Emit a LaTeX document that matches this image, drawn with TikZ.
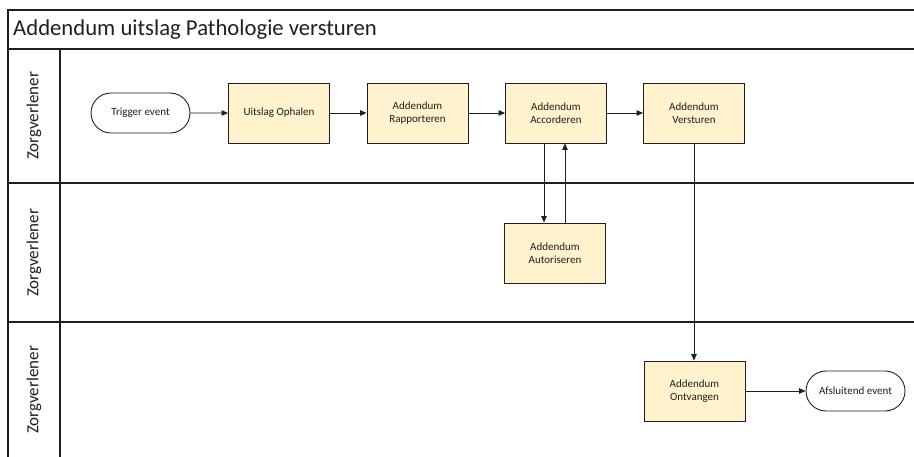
\documentclass[tikz,border=0pt]{standalone}
\usepackage{fontspec}
\setmainfont{Carlito}
\usetikzlibrary{arrows.meta,shapes.misc}
\definecolor{boxfill}{HTML}{FFF2CC}
\definecolor{linec}{HTML}{1F1F1F}
\begin{document}
\begin{tikzpicture}[x=1pt,y=-1pt,
  frameline/.style={draw=linec,line width=1.2pt},
  taskbox/.style={draw=linec,fill=boxfill,line width=0.9pt,minimum width=101pt,minimum height=60pt,inner sep=1pt,align=center,font=\fontsize{11}{13.3}\selectfont,text=linec},
  eventbox/.style={draw=linec,fill=white,line width=0.9pt,rounded rectangle,minimum width=101pt,minimum height=40pt,inner sep=1pt,align=center,font=\fontsize{11}{13.3}\selectfont,text=linec},
  lanelabel/.style={rotate=90,font=\fontsize{17}{19}\selectfont,text=linec},
  arr/.style={draw=linec,line width=0.9pt,-{Triangle[length=6.5pt,width=5.5pt]}}]
\useasboundingbox (0,0) rectangle (914,457);
% frame
\draw[frameline] (8,457) -- (8,10) -- (914,10);
\draw[frameline] (8,49) -- (914,49);
\draw[frameline] (60,49) -- (60,457);
\draw[frameline] (8,183) -- (914,183);
\draw[frameline] (8,322) -- (914,322);
\node[anchor=west,font=\fontsize{22.7}{26}\selectfont,text=linec,inner sep=0pt] (title) at (13,30) {Addendum uitslag Pathologie versturen};
\node[lanelabel] (l1) at (34,116) {Zorgverlener};
\node[lanelabel] (l2) at (34,253) {Zorgverlener};
\node[lanelabel] (l3) at (34,390) {Zorgverlener};
% nodes
\node[eventbox] (trig) at (140.5,113) {Trigger event};
\node[taskbox] (uit) at (279,113) {Uitslag Ophalen};
\node[taskbox] (rap) at (417.5,113) {Addendum\\Rapporteren};
\node[taskbox] (acc) at (556,113) {Addendum\\Accorderen};
\node[taskbox] (ver) at (694,113) {Addendum\\Versturen};
\node[taskbox] (aut) at (555,253) {Addendum\\Autoriseren};
\node[taskbox] (ont) at (694.5,391) {Addendum\\Ontvangen};
\node[eventbox] (afs) at (855.5,391) {Afsluitend event};
% connectors
\draw[arr] (trig) -- (uit);
\draw[arr] (uit) -- (rap);
\draw[arr] (rap) -- (acc);
\draw[arr] (acc) -- (ver);
\draw[arr] ([xshift=-12pt]acc.south) -- ([xshift=-12pt]acc.south |- aut.north);
\draw[arr] ([xshift=10pt]aut.north) -- ([xshift=10pt]aut.north |- acc.south);
\draw[arr] (ver.south) -- (ver.south |- ont.north);
\draw[arr] (ont) -- (afs);
\end{tikzpicture}
\end{document}
